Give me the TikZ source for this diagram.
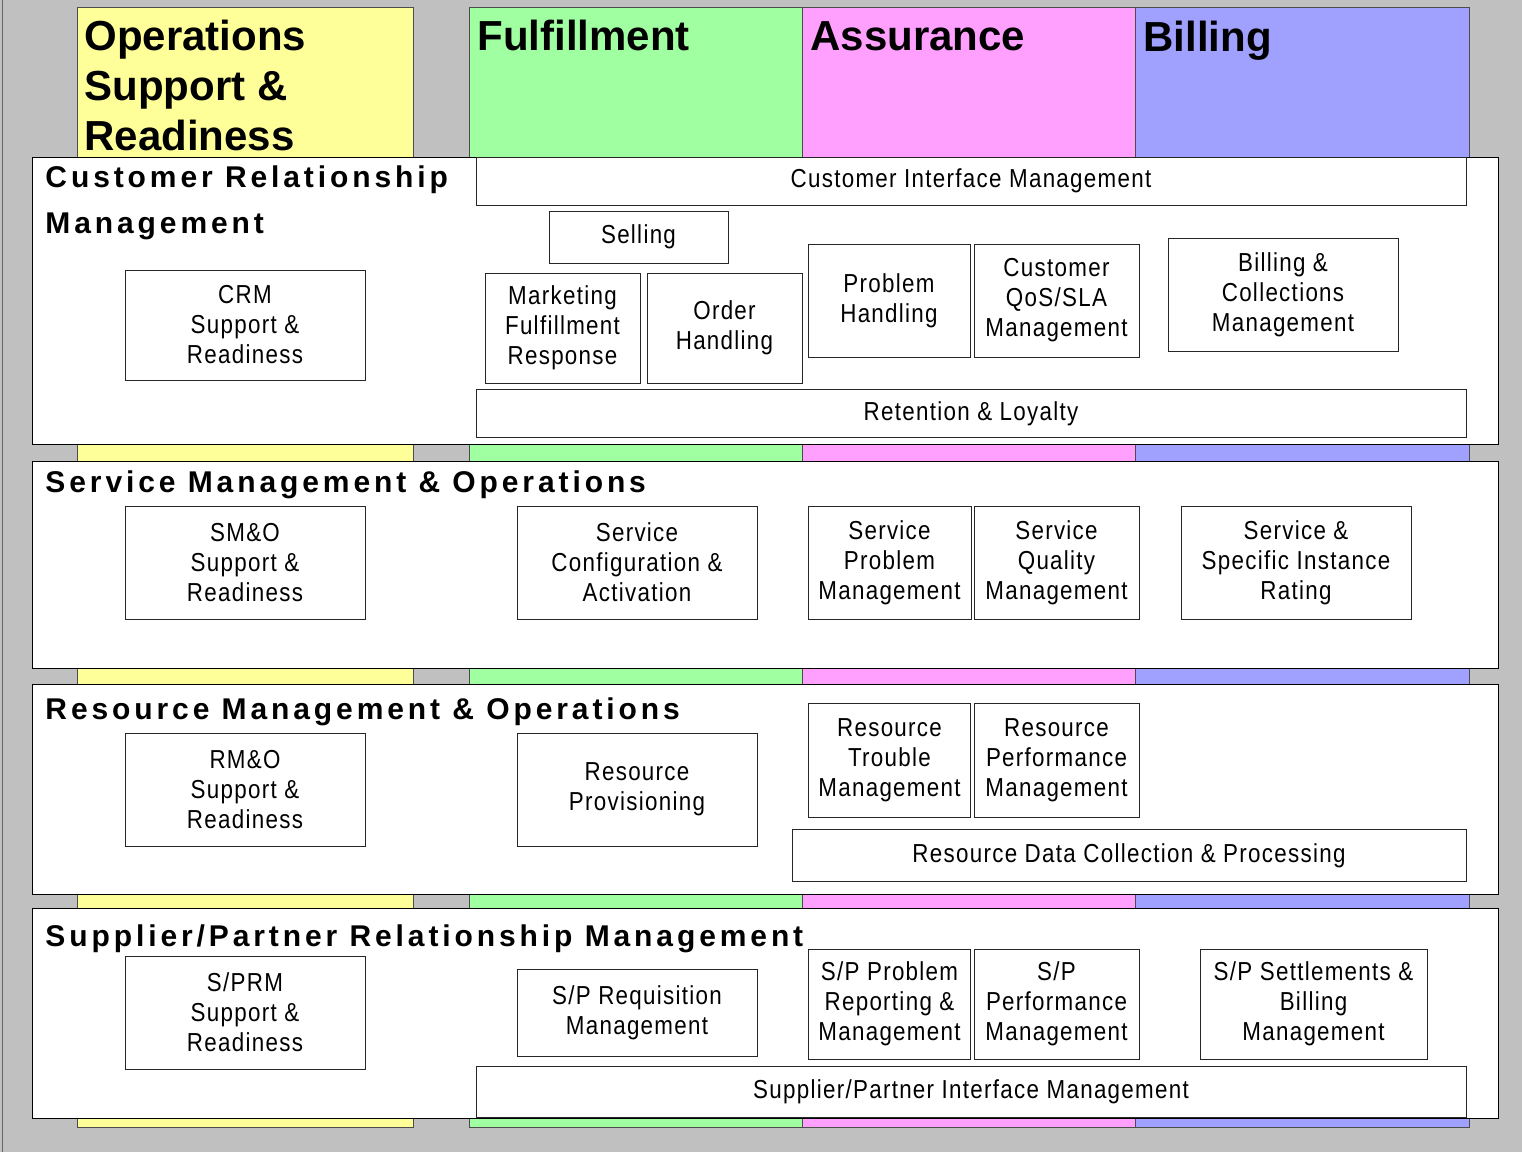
\documentclass[tikz,border=0pt]{standalone}
\usepackage{fontspec}
\setmainfont{Liberation Sans}
\newfontfamily\boxfont{Liberation Sans}[FakeStretch=0.86,LetterSpace=5]
\newfontfamily\headfont{Liberation Sans}[LetterSpace=13]
\definecolor{bgray}{HTML}{C0C0C0}
\definecolor{osr}{HTML}{FFFF99}
\definecolor{ful}{HTML}{A0FFA0}
\definecolor{asr}{HTML}{FFA0FF}
\definecolor{bil}{HTML}{A0A0FF}
\begin{document}
\begin{tikzpicture}[x=.5pt,y=-.5pt,line width=.5pt,
 col/.style={draw=black!70},
 lyr/.style={draw=black,fill=white},
 fn/.style={draw=black!85,fill=white,align=center,inner sep=0pt,font=\boxfont\fontsize{13}{15}\selectfont},
 sz/.style 2 args={minimum width=#1*.5pt,minimum height=#2*.5pt},
 ttl/.style={anchor=base west,align=left,inner sep=0pt,font=\bfseries\fontsize{21}{25}\selectfont},
 hd/.style={anchor=base west,align=left,inner sep=0pt,font=\headfont\bfseries\fontsize{15}{23}\selectfont}]
\useasboundingbox (0,0) rectangle (1522,1152);
\fill[bgray] (0,0) rectangle (1522,1152);
\draw[black!60] (2.5,0) -- (2.5,1152);
\foreach \c/\a/\b in {osr/77/413, ful/469/802, asr/802/1135, bil/1135/1469}
 \filldraw[col,fill=\c] (\a,7) rectangle (\b,1127);
\foreach \a/\b in {157/444, 461/668, 684/894, 908/1118}
 \filldraw[lyr] (32,\a) rectangle (1498,\b);
\node[ttl] (osrt) at (84,150) {Operations\\Support \&\\Readiness};
\node[ttl] (fult) at (477,50) {Fulfillment};
\node[ttl] (asrt) at (810,50) {Assurance};
\node[ttl] (bilt) at (1143,51) {Billing};
\node[hd] (crmh) at (45,233) {Customer Relationship\\Management};
\node[hd] (smoh) at (45,492) {Service Management \& Operations};
\node[hd] (rmoh) at (45,719) {Resource Management \& Operations};
\node[hd] (sprmh) at (45,946) {Supplier/Partner Relationship Management};
\node[fn,sz={990}{48}] (cim) at (971,181) {Customer Interface Management};
\node[fn,sz={179}{52}] (sell) at (638.5,237) {Selling};
\node[fn,sz={155}{110}] (mfr) at (562.5,328) {Marketing\\Fulfillment\\Response};
\node[fn,sz={155}{110}] (oh) at (724.5,328) {Order\\Handling};
\node[fn,sz={162}{113}] (ph) at (889,300.5) {Problem\\Handling};
\node[fn,sz={165}{113}] (cqos) at (1056.5,300.5) {Customer\\QoS/SLA\\Management};
\node[fn,sz={230}{113}] (bcm) at (1283,294.5) {Billing \&\\Collections\\Management};
\node[fn,sz={990}{48}] (rl) at (971,413.5) {Retention \& Loyalty};
\node[fn,sz={240}{110}] (crmsr) at (245,325) {CRM\\Support \&\\Readiness};
\node[fn,sz={240}{113}] (smosr) at (245,562.5) {SM\&O\\Support \&\\Readiness};
\node[fn,sz={240}{113}] (sca) at (637,562.5) {Service\\Configuration \&\\Activation};
\node[fn,sz={163}{113}] (spm) at (889.5,562.5) {Service\\Problem\\Management};
\node[fn,sz={165}{113}] (sqm) at (1056.5,562.5) {Service\\Quality\\Management};
\node[fn,sz={230}{113}] (ssir) at (1296,562.5) {Service \&\\Specific Instance\\Rating};
\node[fn,sz={240}{113}] (rmosr) at (245,789.5) {RM\&O\\Support \&\\Readiness};
\node[fn,sz={240}{113}] (rp) at (637,789.5) {Resource\\Provisioning};
\node[fn,sz={162}{114}] (rtm) at (889.5,760) {Resource\\Trouble\\Management};
\node[fn,sz={165}{114}] (rpm) at (1056.5,760) {Resource\\Performance\\Management};
\node[fn,sz={674}{52}] (rdcp) at (1129,855.5) {Resource Data Collection \& Processing};
\node[fn,sz={240}{113}] (sprmsr) at (245,1012.5) {S/PRM\\Support \&\\Readiness};
\node[fn,sz={240}{87}] (sprqm) at (637,1012.5) {S/P Requisition\\Management};
\node[fn,sz={162}{110}] (spprm) at (889.5,1004) {S/P Problem\\Reporting \&\\Management};
\node[fn,sz={165}{110}] (sppm) at (1056.5,1004) {S/P\\Performance\\Management};
\node[fn,sz={227}{110}] (spsbm) at (1313.5,1004) {S/P Settlements \&\\Billing\\Management};
\node[fn,sz={990}{51}] (spim) at (971,1092) {Supplier/Partner Interface Management};
\end{tikzpicture}
\end{document}
